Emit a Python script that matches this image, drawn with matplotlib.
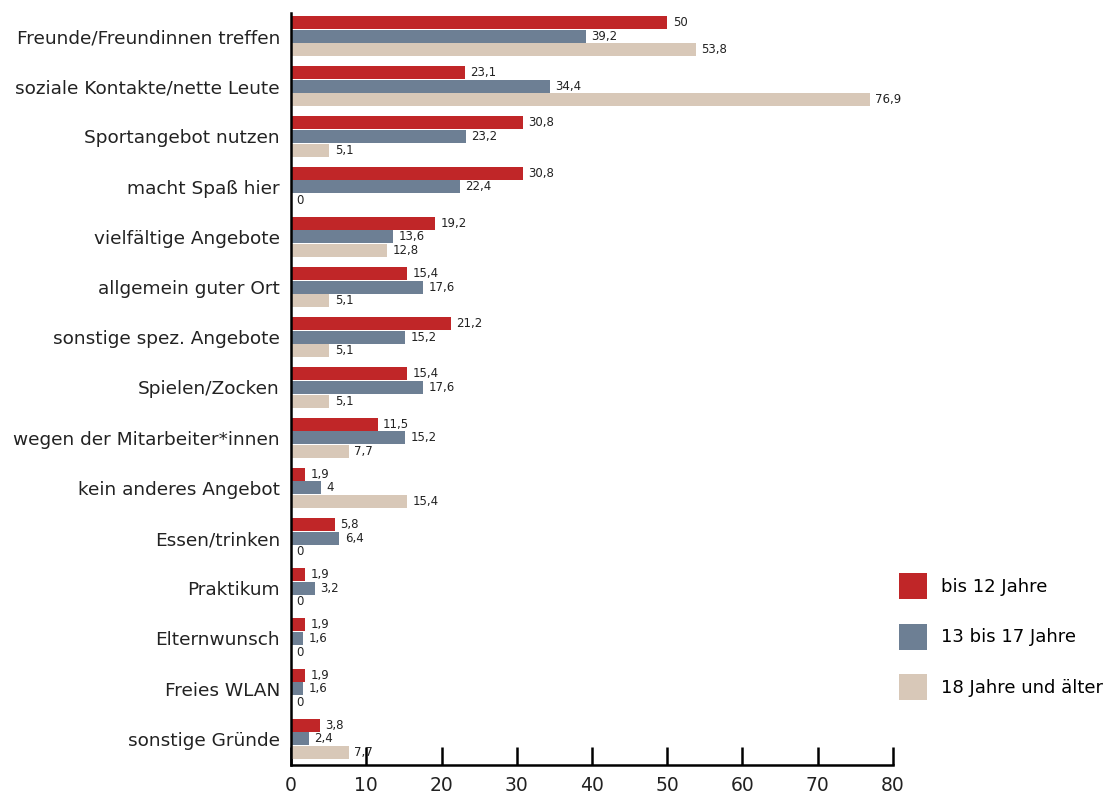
import matplotlib
matplotlib.use("Agg")
import matplotlib.pyplot as plt
from matplotlib.patches import Patch
import numpy as np

categories = [
    "Freunde/Freundinnen treffen", "soziale Kontakte/nette Leute",
    "Sportangebot nutzen", "macht Spaß hier", "vielfältige Angebote",
    "allgemein guter Ort", "sonstige spez. Angebote", "Spielen/Zocken",
    "wegen der Mitarbeiter*innen", "kein anderes Angebot", "Essen/trinken",
    "Praktikum", "Elternwunsch", "Freies WLAN", "sonstige Gründe",
]
bis12 = [50, 23.1, 30.8, 30.8, 19.2, 15.4, 21.2, 15.4, 11.5, 1.9, 5.8, 1.9, 1.9, 1.9, 3.8]
bis17 = [39.2, 34.4, 23.2, 22.4, 13.6, 17.6, 15.2, 17.6, 15.2, 4, 6.4, 3.2, 1.6, 1.6, 2.4]
ab18 = [53.8, 76.9, 5.1, 0, 12.8, 5.1, 5.1, 5.1, 7.7, 15.4, 0, 0, 0, 0, 7.7]
series_names = ["bis 12 Jahre", "13 bis 17 Jahre", "18 Jahre und älter"]
colors = ["#c02628", "#6d7f94", "#d8c8b8"]

plt.rcParams["font.family"] = ["DejaVu Sans"]

fig = plt.figure(figsize=(11.2, 7.99), dpi=100)
ax = fig.add_axes([291 / 1120, 1 - 765 / 799, 602 / 1120, (765 - 13) / 799])

y = np.arange(len(categories))
h = 0.26
offs = [-0.27, 0, 0.27]
for vals, off, col in zip([bis12, bis17, ab18], offs, colors):
    ax.barh(y + off, vals, height=h, color=col, zorder=2)
    for yi, v in zip(y, vals):
        ax.annotate(f"{v:g}".replace(".", ","), (v, yi + off), xytext=(4, 0),
                    textcoords="offset points", va="center", ha="left",
                    fontsize=8.5, color="#222222")

ax.set_xlim(0, 80)
ax.set_ylim(14.52, -0.46)
ax.set_yticks(y)
ax.set_yticklabels(categories, fontsize=13.3, color="#222222")
ax.tick_params(axis="y", length=0, pad=8)
ax.set_xticks(range(0, 81, 10))
ax.tick_params(axis="x", direction="in", length=13, width=1.8, pad=8,
               labelsize=13.5, labelcolor="#222222")
for s in ["top", "right"]:
    ax.spines[s].set_visible(False)
for s in ["left", "bottom"]:
    ax.spines[s].set_linewidth(1.8)
    ax.spines[s].set_zorder(3)

handles = [Patch(facecolor=c, edgecolor="none") for c in colors]
fig.legend(handles, series_names, loc="upper left",
           bbox_to_anchor=(899 / 1120, 1 - 573 / 799), frameon=False,
           fontsize=13, handlelength=1.55, handleheight=1.85,
           labelspacing=1.35, handletextpad=0.8, borderpad=0, borderaxespad=0)

fig.savefig("out.png", facecolor="white")
